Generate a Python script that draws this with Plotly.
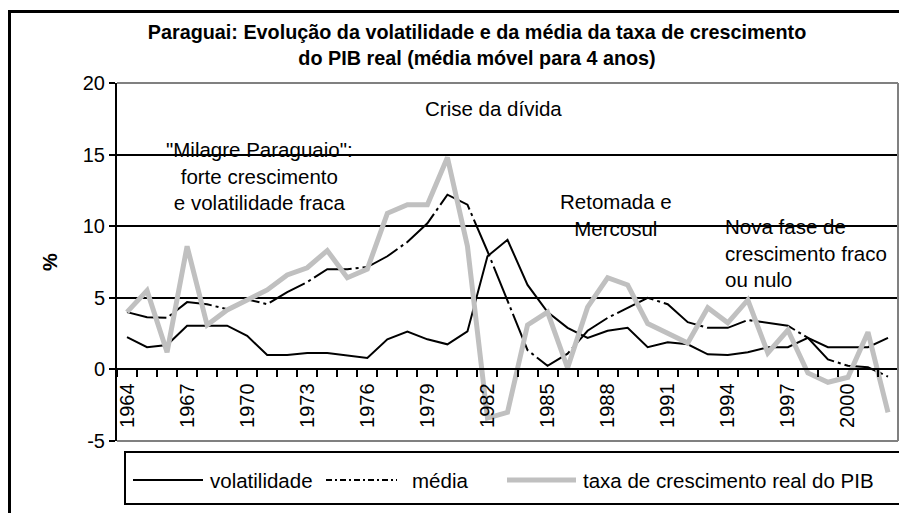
import plotly.graph_objects as go

years = list(range(1964, 2003))

volatilidade = [2.25, 1.55, 1.7, 3.05, 3.05, 3.05, 2.35, 1.0, 1.0, 1.15,
                1.15, 1.0, 0.8, 2.1, 2.65, 2.1, 1.75, 2.65, 7.9, 9.05,
                5.9, 4.0, 2.9, 2.2, 2.7, 2.9, 1.55, 1.9, 1.75, 1.05,
                1.0, 1.2, 1.55, 1.55, 2.2, 1.55, 1.55, 1.55, 2.2]

media = [4.0, 3.65, 3.6, 4.7, 4.55, 4.2, 4.9, 4.55, 5.4, 6.1,
         7.0, 7.0, 7.15, 7.9, 8.9, 10.2, 12.2, 11.5, 8.25, 4.85,
         1.35, 0.25, 1.1, 2.7, 3.6, 4.3, 5.0, 4.55, 3.3, 2.9,
         2.9, 3.45, 3.25, 3.05, 2.2, 0.7, 0.25, 0.15, -0.5]

crescimento = [4.0, 5.5, 1.2, 8.6, 3.1, 4.15, 4.85, 5.55, 6.6, 7.1,
               8.3, 6.4, 7.0, 10.9, 11.5, 11.5, 14.8, 8.6, -3.4, -3.0,
               3.1, 4.0, 0.1, 4.35, 6.4, 5.9, 3.2, 2.55, 1.85, 4.3,
               3.25, 4.85, 1.15, 2.75, -0.25, -0.9, -0.55, 2.6, -3.0]

series_names = ["volatilidade", "média", "taxa de crescimento real do PIB"]

label_years = list(range(1964, 2003, 3))
tick_labels = [str(y) for y in label_years]
y_ticks = [-5, 0, 5, 10, 15, 20]
y_tick_labels = ["-5", "0", "5", "10", "15", "20"]
boundaries = [y - 0.5 for y in years] + [years[-1] + 0.5]

FONT = "Liberation Sans, Arial, sans-serif"

# figure geometry (the page body adds an 8px offset)
W, H = 899, 505
ML, MR, MT, MB = 109, 9, 75, 72
PW, PH = W - ML - MR, H - MT - MB


def px(fx):  # figure x pixel -> paper
    return (fx - ML) / PW


def py(fy):  # figure y pixel -> paper
    return (H - MB - fy) / PH


styles = [dict(color="black", width=2),
          dict(color="black", width=2, dash="40px,4px,3px,4px"),
          dict(color="#c0c0c0", width=5)]
legend_styles = [styles[0],
                 dict(color="black", width=2, dash="6px,3px,2px,3px"),
                 styles[2]]

fig = go.Figure()
for name, vals, st in zip(series_names, [volatilidade, media, crescimento], styles):
    fig.add_trace(go.Scatter(x=years, y=vals, name=name, mode="lines", line=st,
                             showlegend=False))

fig.update_layout(
    width=W, height=H,
    margin=dict(l=ML, r=MR, t=MT, b=MB, autoexpand=False),
    paper_bgcolor="white", plot_bgcolor="white",
    font=dict(family=FONT, color="black", size=20),
    title=dict(text="<b>Paraguai: Evolução da volatilidade e da média da taxa de crescimento<br>do PIB real (média móvel para 4 anos)</b>",
               x=469 / W, xanchor="center", xref="container",
               y=1 - 31 / H, yanchor="top", yref="container",
               font=dict(size=19.8, family=FONT, color="black")),
    showlegend=False,
    xaxis=dict(range=[1963.5, 2002.5], tickmode="array", tickvals=label_years,
               ticktext=tick_labels, tickangle=-90, ticks="", showgrid=False,
               zeroline=False, showline=True, linecolor="black", linewidth=2,
               anchor="free", position=0.2, ticklabelstandoff=5, automargin=False,
               tickfont=dict(size=20),
               minor=dict(tickmode="array", tickvals=boundaries, ticks="outside",
                          ticklen=7, tickwidth=2, tickcolor="black", showgrid=False)),
    yaxis=dict(range=[-5, 20], tickmode="array", tickvals=y_ticks, ticktext=y_tick_labels,
               showgrid=True, gridcolor="black", gridwidth=2, zeroline=False,
               showline=True, linecolor="black", linewidth=2, automargin=False,
               ticks="outside", ticklen=6, tickwidth=2, tickcolor="black",
               tickfont=dict(size=20),
               title=dict(text="<b>%</b>", standoff=20, font=dict(size=20))),
)

# plot-area frame (grey) on top, right and bottom
for (x0, y0, x1, y1) in [(0, 1, 1, 1), (1, 0, 1, 1), (0, 0, 1, 0)]:
    fig.add_shape(type="line", xref="paper", yref="paper", x0=x0, y0=y0, x1=x1, y1=y1,
                  line=dict(color="#808080", width=2), layer="above")

# outer chart border
fig.add_shape(type="rect", xref="paper", yref="paper",
              x0=px(1.5), x1=px(W + 10), y0=py(H + 10), y1=py(3.5),
              line=dict(color="black", width=3), layer="below")

# legend box, drawn from the traces' own names and styles
fig.add_shape(type="rect", xref="paper", yref="paper",
              x0=px(117), x1=px(897), y0=py(496), y1=py(444),
              line=dict(color="black", width=2), fillcolor="white", layer="above")
leg_y = py(472)
leg_samples = [(125, 195), (318, 389), (499, 568)]
leg_text_x = [200, 402, 573]
for (sx0, sx1), tx, name, st in zip(leg_samples, leg_text_x, series_names, legend_styles):
    fig.add_shape(type="line", xref="paper", yref="paper", x0=px(sx0), x1=px(sx1),
                  y0=leg_y, y1=leg_y, line=st, layer="above")
    fig.add_annotation(x=px(tx), y=leg_y, xref="paper", yref="paper", xanchor="left",
                       yanchor="middle", text=name, showarrow=False,
                       font=dict(family=FONT, size=20.5, color="black"))

ann_font = dict(family=FONT, size=20.5, color="black")
fig.add_annotation(x=1982.3, y=18.25, xref="x", yref="y", text="Crise da dívida",
                   showarrow=False, font=ann_font)
fig.add_annotation(x=1970.6, y=13.5, xref="x", yref="y",
                   text="\"Milagre Paraguaio\":<br>forte crescimento<br>e volatilidade fraca",
                   showarrow=False, font=ann_font, align="center")
fig.add_annotation(x=1988.4, y=10.75, xref="x", yref="y", text="Retomada e<br>Mercosul",
                   showarrow=False, font=ann_font, align="center")
fig.add_annotation(x=1993.75, y=8.13, xref="x", yref="y", xanchor="left",
                   text="Nova fase de<br>crescimento fraco<br>ou nulo",
                   showarrow=False, font=ann_font, align="left")

fig.write_html("out.html")
